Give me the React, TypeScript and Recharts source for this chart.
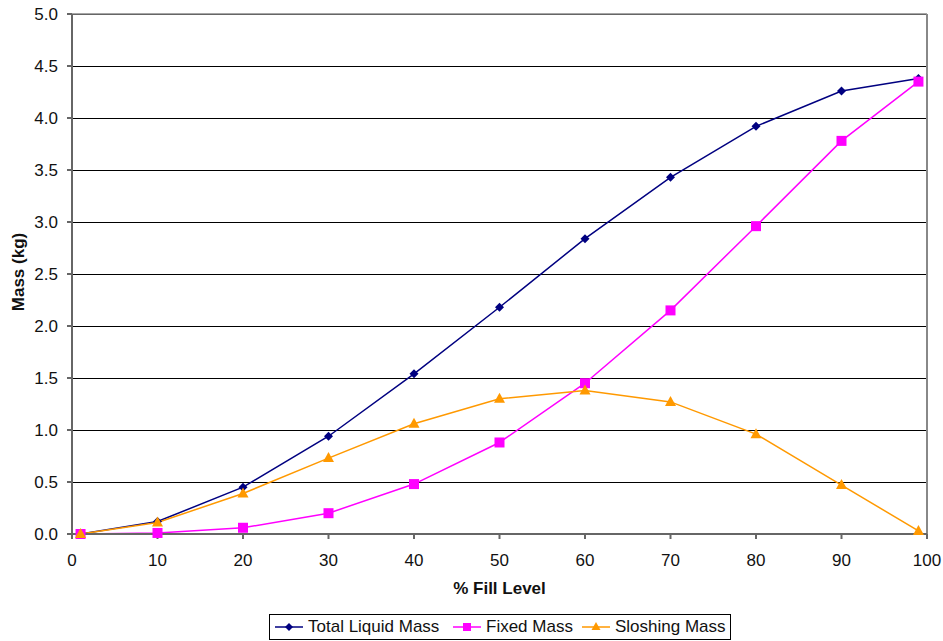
import {
  LineChart,
  Line,
  XAxis,
  YAxis,
  CartesianGrid,
  ReferenceLine,
} from "recharts";

const fillLevels = [1, 10, 20, 30, 40, 50, 60, 70, 80, 90, 99];
const totalMass = [0, 0.12, 0.45, 0.94, 1.54, 2.18, 2.84, 3.43, 3.92, 4.26, 4.38];
const fixedMass = [0, 0.01, 0.06, 0.2, 0.48, 0.88, 1.45, 2.15, 2.96, 3.78, 4.35];
const sloshingMass = [0, 0.11, 0.39, 0.73, 1.06, 1.3, 1.38, 1.27, 0.96, 0.47, 0.03];

const xTicks = [0, 10, 20, 30, 40, 50, 60, 70, 80, 90, 100];
const yTicks = [0, 0.5, 1, 1.5, 2, 2.5, 3, 3.5, 4, 4.5, 5];

const NAVY = "#000080";
const MAGENTA = "#ff00ff";
const ORANGE = "#ff9900";
const FONT = "'Liberation Sans', Arial, sans-serif";

const data = fillLevels.map((x, i) => ({
  fill: x,
  total: totalMass[i],
  fixed: fixedMass[i],
  sloshing: sloshingMass[i],
}));

type Shape = "diamond" | "square" | "triangle";

function marker(shape: Shape, cx: number, cy: number, color: string, s: number) {
  if (shape === "diamond") {
    return <polygon points={`${cx},${cy - s} ${cx + s},${cy} ${cx},${cy + s} ${cx - s},${cy}`} fill={color} />;
  }
  if (shape === "square") {
    return <rect x={cx - s} y={cy - s} width={s * 2} height={s * 2} fill={color} />;
  }
  return <polygon points={`${cx},${cy - s - 1} ${cx + s + 0.5},${cy + s - 1} ${cx - s - 0.5},${cy + s - 1}`} fill={color} />;
}

const makeDot = (shape: Shape, color: string, s: number) => (p: any) => (
  <g key={`${shape}-${p.index}`}>{marker(shape, p.cx, p.cy, color, s)}</g>
);

const tickStyle = { fill: "#111", fontSize: 17, fontFamily: FONT };
const titleStyle = { fontSize: 17, fontWeight: "bold", fontFamily: FONT, fill: "#111" };

const legendItems: { label: string; color: string; shape: Shape; left: number }[] = [
  { label: "Total Liquid Mass", color: NAVY, shape: "diamond", left: 4 },
  { label: "Fixed Mass", color: MAGENTA, shape: "square", left: 182 },
  { label: "Sloshing Mass", color: ORANGE, shape: "triangle", left: 311 },
];

export default function App() {
  return (
    <div style={{ position: "absolute", left: 0, top: 0, width: 943, height: 641, background: "#fff" }}>
      <LineChart
        width={943}
        height={641}
        data={data}
        margin={{ top: 14, right: 16, bottom: 0, left: 0 }}
      >
        <CartesianGrid vertical={false} stroke="#000" strokeWidth={1} shapeRendering="crispEdges" />
        <XAxis
          dataKey="fill"
          type="number"
          domain={[0, 100]}
          ticks={xTicks}
          height={107}
          tick={tickStyle}
          tickSize={5}
          tickMargin={15}
          stroke="#666"
          strokeWidth={2}
          label={{
            value: "% Fill Level",
            position: "insideBottom",
            offset: 47,
            style: titleStyle,
          }}
        />
        <YAxis
          type="number"
          domain={[0, 5]}
          ticks={yTicks}
          width={72}
          tick={tickStyle}
          tickSize={5}
          tickMargin={9}
          tickFormatter={(v: number) => v.toFixed(1)}
          stroke="#666"
          strokeWidth={2}
          label={{
            content: () => (
              <text
                x={24}
                y={272}
                transform="rotate(-90, 24, 272)"
                textAnchor="middle"
                style={titleStyle}
              >
                Mass (kg)
              </text>
            ),
          }}
        />
        <ReferenceLine y={5} stroke="#888" strokeWidth={1.5} />
        <ReferenceLine x={100} stroke="#888" strokeWidth={2} />
        <Line
          dataKey="total"
          stroke={NAVY}
          strokeWidth={1.5}
          dot={makeDot("diamond", NAVY, 4.5)}
          isAnimationActive={false}
        />
        <Line
          dataKey="fixed"
          stroke={MAGENTA}
          strokeWidth={1.5}
          dot={makeDot("square", MAGENTA, 5)}
          isAnimationActive={false}
        />
        <Line
          dataKey="sloshing"
          stroke={ORANGE}
          strokeWidth={1.5}
          dot={makeDot("triangle", ORANGE, 5)}
          isAnimationActive={false}
        />
      </LineChart>
      <div
        style={{
          position: "absolute",
          left: 269,
          top: 614,
          width: 462,
          height: 26,
          border: "1px solid #000",
          boxSizing: "border-box",
          fontFamily: FONT,
          fontSize: 17,
          color: "#111",
        }}
      >
        {legendItems.map((it) => (
          <div
            key={it.label}
            style={{
              position: "absolute",
              left: it.left,
              top: 0,
              height: 24,
              display: "flex",
              alignItems: "center",
              whiteSpace: "nowrap",
            }}
          >
            <svg width={30} height={12} style={{ marginRight: 4 }}>
              <line x1={1} y1={6} x2={29} y2={6} stroke={it.color} strokeWidth={1.5} />
              {marker(it.shape, 15, 6, it.color, 4)}
            </svg>
            <span>{it.label}</span>
          </div>
        ))}
      </div>
    </div>
  );
}
